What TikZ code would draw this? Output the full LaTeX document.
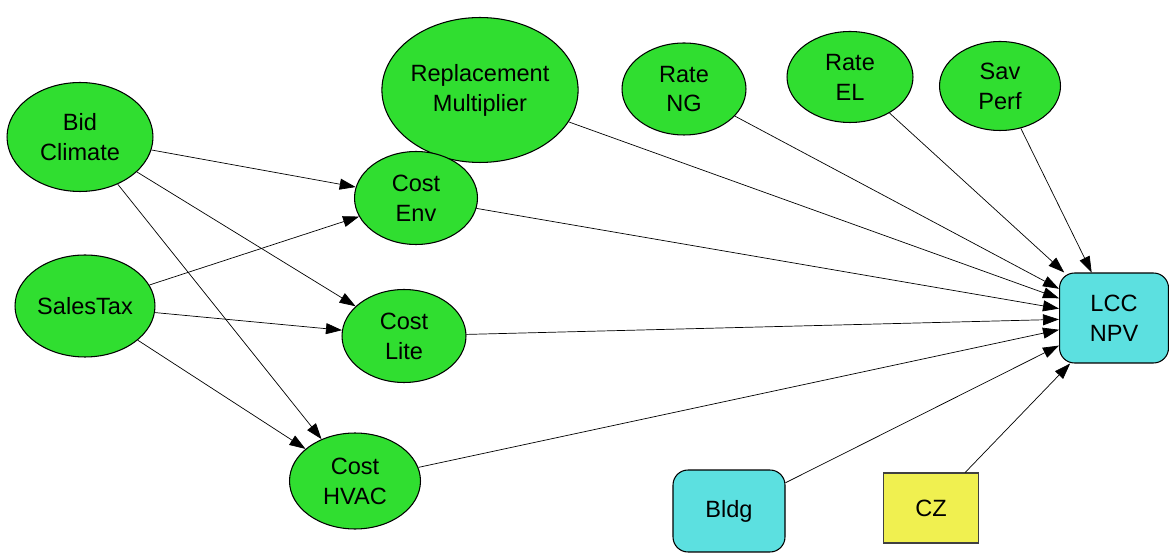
\documentclass[tikz,border=0pt]{standalone}
\usepackage{fontspec}
\setmainfont{Liberation Sans}
\usepackage{tikz}
\usetikzlibrary{shapes.geometric, arrows.meta}
\definecolor{chance}{RGB}{48,222,48}
\definecolor{objective}{RGB}{92,224,224}
\definecolor{index}{RGB}{240,240,80}
\tikzset{
	->,
	>={Triangle[length=0.32cm, width=0.22cm]},
	line width=0.6pt,
	every node/.style={font=\fontsize{13.4}{17}\selectfont, align=center, inner sep=0pt, draw, line width=0.6pt},
	chancenode/.style={ellipse, fill=chance, minimum width=2.48cm, minimum height=1.84cm},
	objnode/.style={rectangle, rounded corners=0.3cm, fill=objective},
	indexnode/.style={rectangle, fill=index, draw=black!75},
}

\begin{document}
\begin{tikzpicture}[x=0.02cm, y=-0.02cm]
			\useasboundingbox (0,0) rectangle (1169,553);
			\node[chancenode, minimum width=2.92cm, minimum height=2.18cm] (BID) at (80,137) {Bid\\Climate};
			\node[chancenode, minimum width=2.8cm, minimum height=2.04cm] (TAX) at (85,306) {SalesTax};
			\node[chancenode, minimum width=3.66cm, minimum height=2.9cm] (REPL) at (480,90) {Replacement\\Multiplier};
			\node[chancenode] (RNG) at (684,89) {Rate\\NG};
			\node[chancenode, minimum width=2.52cm, minimum height=1.82cm] (REL) at (850,77) {Rate\\EL};
			\node[chancenode, minimum width=2.42cm, minimum height=1.78cm] (SAV) at (1000,86) {Sav\\Perf};
			\node[chancenode, minimum width=2.46cm, minimum height=1.86cm] (ENV) at (416,198) {Cost\\Env};
			\node[chancenode, minimum height=1.86cm] (LITE) at (404,336) {Cost\\Lite};
			\node[chancenode, minimum width=2.62cm, minimum height=1.92cm] (HVAC) at (355,481) {Cost\\HVAC};
			\node[objnode, minimum width=2.18cm, minimum height=1.8cm] (LCC) at (1114,318) {LCC\\NPV};
			\node[objnode, minimum width=2.24cm, minimum height=1.64cm] (BLDG) at (729,511) {Bldg};
			\node[indexnode, minimum width=1.9cm, minimum height=1.4cm] (CZ) at (931,508) {CZ};
			
			\draw (BID) edge[] (ENV);
			\draw (BID) edge[] (LITE);
			\draw (BID) edge[] (HVAC);
			\draw (TAX) edge[] (ENV);
			\draw (TAX) edge[] (LITE);
			\draw (TAX) edge[] (HVAC);
			\draw (REPL) edge[] (LCC);
			\draw (RNG) edge[] (LCC);
			\draw (REL) edge[] (LCC);
			\draw (SAV) edge[] (LCC);
			\draw (ENV) edge[] (LCC);
			\draw (LITE) edge[] (LCC);
			\draw (HVAC) edge[] (LCC);
			\draw (BLDG) edge[] (LCC);
			\draw (CZ) edge[] (LCC);
		\end{tikzpicture}
\end{document}
